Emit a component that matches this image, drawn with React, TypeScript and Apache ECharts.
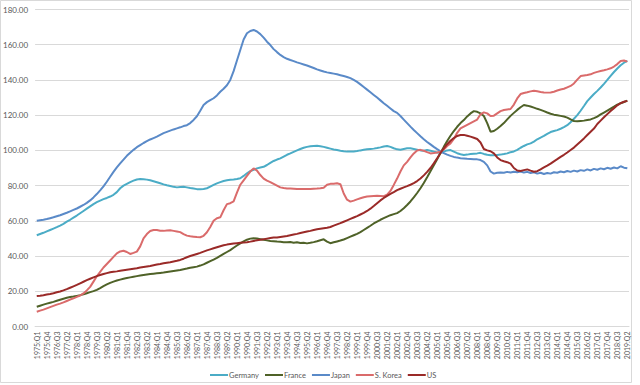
import React, { useEffect, useRef } from "react";
import * as echarts from "echarts";

const startYear = 1975;
const endYear = 2019;
const endQuarter = 2;

const categories: string[] = [];
for (let y = startYear; y <= endYear; y++) {
  for (let q = 1; q <= 4; q++) {
    if (y === endYear && q > endQuarter) break;
    categories.push(`${y}:Q${q}`);
  }
}

const germany = [
  51.8, 52.5, 53.2, 54.0, 54.8, 55.6, 56.4, 57.3, 58.3, 59.5, 60.6, 61.8,
  63.0, 64.3, 65.6, 66.9, 68.2, 69.5, 70.6, 71.5, 72.3, 73.0, 73.8, 74.8,
  76.3, 78.5, 80.0, 81.0, 82.0, 82.8, 83.5, 83.7, 83.6, 83.4, 83.0, 82.5,
  81.9, 81.3, 80.7, 80.2, 79.8, 79.3, 79.0, 79.2, 79.4, 79.0, 78.6, 78.3,
  78.0, 77.9, 78.1, 78.5, 79.4, 80.4, 81.3, 82.0, 82.6, 83.0, 83.3, 83.5,
  83.8, 84.2, 85.5, 87.0, 88.2, 89.0, 89.8, 90.3, 90.7, 91.7, 92.9, 94.0,
  94.8, 95.5, 96.5, 97.5, 98.3, 99.2, 100.0, 100.8, 101.5, 102.0, 102.3, 102.5,
  102.6, 102.4, 102.0, 101.5, 101.0, 100.5, 100.2, 99.8, 99.5, 99.3, 99.3, 99.4,
  99.6, 100.0, 100.3, 100.6, 100.8, 101.0, 101.3, 101.7, 102.2, 102.5, 102.0, 101.2,
  100.6, 100.4, 100.8, 101.2, 101.2, 100.8, 100.4, 100.0, 99.8, 100.2, 99.8, 99.3,
  98.8, 98.7, 99.3, 100.0, 100.2, 99.3, 98.4, 97.8, 97.4, 97.6, 97.9, 98.1,
  98.3, 98.6, 98.0, 97.5, 97.3, 97.2, 97.4, 97.6, 97.9, 98.3, 99.0, 99.4,
  100.3, 101.5, 102.5, 103.4, 104.0, 105.0, 106.3, 107.3, 108.2, 109.4, 110.4, 111.0,
  111.5, 112.3, 113.2, 114.3, 116.0, 118.0, 120.0, 122.5, 125.2, 128.0, 130.0, 132.0,
  133.8, 135.7, 137.8, 140.0, 142.3, 144.5, 146.5, 148.3, 149.8, 150.8,
];

const france = [
  11.2, 11.8, 12.4, 13.0, 13.5, 14.0, 14.6, 15.2, 15.8, 16.3, 16.7, 17.0,
  17.4, 17.8, 18.3, 18.9, 19.5, 20.1, 20.8, 21.8, 22.9, 23.9, 24.8, 25.5,
  26.1, 26.6, 27.1, 27.5, 27.9, 28.3, 28.6, 28.9, 29.2, 29.5, 29.8, 30.0,
  30.2, 30.4, 30.6, 30.9, 31.2, 31.5, 31.8, 32.1, 32.5, 32.9, 33.4, 33.7,
  34.0, 34.6, 35.3, 36.2, 37.1, 38.0, 39.0, 40.1, 41.2, 42.3, 43.4, 44.7,
  46.0, 47.2, 48.3, 49.3, 49.9, 50.1, 50.0, 49.6, 49.2, 48.9, 48.6, 48.4,
  48.2, 48.1, 47.9, 47.8, 48.0, 47.6, 47.8, 47.4, 47.6, 47.2, 47.5, 47.9,
  48.4, 49.0, 49.5, 48.2, 47.3, 47.8, 48.3, 48.8, 49.4, 50.2, 51.0, 51.8,
  52.6, 53.6, 54.8, 56.0, 57.2, 58.5, 59.6, 60.6, 61.5, 62.4, 63.2, 63.8,
  64.4, 65.6, 67.2, 69.0, 71.0, 73.3, 75.8, 78.5, 81.5, 84.8, 88.2, 91.5,
  95.0, 98.5, 102.0, 105.3, 108.3, 111.0, 113.4, 115.5, 117.2, 119.3, 121.0, 122.3,
  121.9, 121.0, 119.5, 115.5, 110.6, 111.0, 112.3, 113.8, 115.5, 117.6, 119.6, 121.3,
  123.0, 124.5, 125.8, 125.4, 124.9, 124.3, 123.6, 123.0, 122.3, 121.5, 120.8, 120.3,
  120.0, 119.6, 119.2, 118.6, 117.6, 116.7, 116.5, 116.7, 116.9, 117.3, 117.6, 118.3,
  119.2, 120.4, 121.5, 122.6, 123.7, 124.8, 126.0, 126.8, 127.5, 128.3,
];

const japan = [
  60.0, 60.3, 60.6, 61.0, 61.5, 62.0, 62.6, 63.2, 63.9, 64.6, 65.4, 66.2,
  67.0, 68.0, 69.0, 70.2, 71.6, 73.3, 75.2, 77.3, 79.6, 82.2, 85.0, 87.8,
  90.3, 92.6, 94.8, 96.9, 98.7, 100.3, 101.8, 103.0, 104.2, 105.2, 106.2, 107.0,
  107.8, 108.8, 109.8, 110.5, 111.2, 111.9, 112.5, 113.1, 113.8, 114.3, 115.5, 117.3,
  119.4, 122.5, 125.8, 127.4, 128.5, 129.6, 131.2, 133.3, 135.0, 137.0, 140.0, 145.0,
  151.0, 157.0, 163.0, 166.5, 167.8, 168.4, 167.5, 166.0, 164.0, 161.7, 159.8, 157.5,
  155.8, 154.2, 153.0, 152.0, 151.3, 150.7, 150.0, 149.4, 148.8, 148.2, 147.5, 146.8,
  146.0, 145.4, 144.8, 144.3, 144.0, 143.6, 143.2, 142.7, 142.2, 141.7, 141.0, 140.0,
  138.9, 137.5, 136.0, 134.5, 133.0, 131.5, 130.0, 128.4, 126.8, 125.3, 123.8, 122.3,
  121.3, 119.5, 117.5, 115.5, 113.5, 111.6, 109.8, 108.0, 106.3, 104.8, 103.4, 102.0,
  100.7, 99.5, 98.5, 97.6, 96.9, 96.3, 95.9, 95.6, 95.4, 95.2, 95.1, 95.0,
  94.9, 94.5, 93.5, 91.5, 88.0, 86.8, 87.3, 87.5, 87.3, 87.8, 87.4, 87.9,
  87.6, 88.0, 87.4, 87.8, 87.2, 87.6, 86.8, 87.3, 86.6, 87.2, 86.8, 87.6,
  87.3, 88.0, 87.6, 88.3, 87.8, 88.5, 88.0, 88.8, 88.4, 89.2, 88.6, 89.5,
  89.0, 89.8, 89.3, 90.1, 89.6, 90.3, 89.8, 91.0, 90.2, 89.8,
];

const korea = [
  8.4, 9.0, 9.6, 10.3, 11.0, 11.7, 12.4, 13.0, 13.7, 14.5, 15.3, 16.0,
  16.8, 17.6, 18.8, 20.5, 22.5, 25.5, 28.5, 31.0, 33.5, 35.5, 37.5, 39.5,
  41.5, 42.6, 43.0, 42.3, 41.2, 41.8, 42.5, 45.5, 50.1, 52.5, 54.2, 54.8,
  54.8, 54.4, 54.3, 54.5, 54.6, 54.3, 54.0, 53.6, 52.5, 51.6, 51.2, 51.0,
  50.8, 50.7, 51.5, 53.5, 56.5, 60.0, 61.5, 62.0, 66.0, 69.5, 70.0, 71.0,
  76.0, 80.5, 83.0, 85.5, 88.0, 89.8, 88.5, 86.0, 84.0, 82.8, 82.0, 81.0,
  80.0, 79.0, 78.6, 78.4, 78.3, 78.2, 78.1, 78.1, 78.1, 78.1, 78.1, 78.2,
  78.3, 78.5, 78.8, 80.5, 81.0, 81.1, 81.3, 80.8, 75.5, 72.0, 70.9, 71.5,
  72.2, 72.8, 73.4, 73.8, 74.0, 74.1, 74.2, 74.1, 74.0, 74.8, 77.0, 80.4,
  84.0, 88.0, 91.5, 93.5, 96.0, 98.3, 100.0, 100.3, 99.8, 99.0, 98.3, 98.5,
  98.8, 99.3, 100.5, 102.5, 104.0, 106.5, 110.0, 112.5, 113.5, 114.5, 115.5, 116.5,
  117.5, 120.5, 121.6, 121.0, 119.5, 119.7, 121.0, 122.3, 122.9, 123.2, 123.5, 126.0,
  129.5, 132.0, 132.6, 133.0, 133.5, 133.9, 133.6, 133.2, 132.9, 132.8, 132.9, 133.3,
  134.0, 134.6, 135.0, 135.8, 136.6, 138.0, 140.2, 142.2, 142.5, 142.8, 143.2, 144.0,
  144.6, 145.1, 145.5, 146.0, 146.6, 147.6, 149.0, 150.8, 151.0, 150.4,
];

const us = [
  17.3, 17.5, 17.8, 18.2, 18.5, 18.9, 19.4, 19.9, 20.5, 21.2, 22.0, 22.8,
  23.6, 24.5, 25.4, 26.3, 27.1, 27.9, 28.6, 29.2, 29.8, 30.3, 30.8, 31.1,
  31.3, 31.6, 31.9, 32.2, 32.5, 32.8, 33.1, 33.5, 33.8, 34.1, 34.4, 34.8,
  35.2, 35.5, 35.9, 36.2, 36.5, 36.9, 37.3, 37.8, 38.5, 39.3, 40.0, 40.6,
  41.2, 41.8, 42.5, 43.2, 43.8, 44.4, 45.0, 45.6, 46.1, 46.5, 46.8, 47.1,
  47.3, 47.5, 47.7, 47.9, 48.2, 48.6, 49.0, 49.3, 49.6, 49.9, 50.2, 50.5,
  50.5, 50.8, 51.1, 51.4, 51.8, 52.2, 52.6, 53.1, 53.5, 53.9, 54.3, 54.8,
  55.2, 55.5, 55.8, 56.1, 56.5, 57.3, 58.0, 58.7, 59.5, 60.3, 61.1, 61.9,
  62.7, 63.6, 64.5, 65.6, 66.9, 68.4, 70.0, 71.6, 73.0, 74.2, 75.3, 76.3,
  77.4, 78.2, 79.0, 79.7, 80.5, 81.4, 82.6, 84.0, 85.8, 87.8, 90.0, 92.6,
  95.5, 98.5, 101.2, 103.5, 105.5, 107.0, 108.2, 108.7, 108.8, 108.3, 107.8, 107.2,
  106.5, 104.5, 100.8, 100.0, 99.5, 98.3, 96.0, 94.5, 93.8, 93.3, 92.5, 90.0,
  88.6, 88.3, 88.8, 89.2, 88.5, 87.9, 88.2, 89.2, 90.3, 91.3, 92.5, 93.8,
  95.0, 96.3, 97.5, 98.8, 100.2, 101.6, 103.3, 105.0, 106.8, 108.7, 110.6, 112.4,
  115.0, 116.9, 118.8, 120.6, 122.4, 124.0, 125.6, 126.8, 127.6, 128.1,
];

const yTicks = { min: 0, max: 180, interval: 20 };

const seriesDefs = [
  { name: "Germany", data: germany, color: "#4BACC6" },
  { name: "France", data: france, color: "#4F6228" },
  { name: "Japan", data: japan, color: "#5A8AC8" },
  { name: "S. Korea", data: korea, color: "#DA6B6B" },
  { name: "US", data: us, color: "#9A2A28" },
];

const FONT = "Lato, 'Liberation Sans', sans-serif";

export default function App() {
  const ref = useRef<HTMLDivElement>(null);
  useEffect(() => {
    if (!ref.current) return;
    const chart = echarts.init(ref.current, undefined, { renderer: "svg" });
    chart.setOption({
      animation: false,
      backgroundColor: "#ffffff",
      textStyle: { fontFamily: FONT },
      graphic: [
        {
          type: "rect",
          shape: { x: 0.5, y: 0.5, width: 631, height: 382 },
          style: { fill: "none", stroke: "#d9d9d9", lineWidth: 1 },
          silent: true,
        },
      ],
      grid: { left: 34, right: 11, top: 9.5, bottom: 58.5, containLabel: false },
      legend: {
        top: 366,
        left: 205,
        icon: "rect",
        itemWidth: 18,
        itemHeight: 2,
        itemGap: 6,
        textStyle: { fontSize: 7.5, color: "#595959", fontFamily: FONT, padding: [0, 0, 0, -4] },
        data: seriesDefs.map((s) => s.name),
      },
      xAxis: {
        type: "category",
        data: categories,
        boundaryGap: true,
        axisLine: { lineStyle: { color: "#d9d9d9", width: 1 } },
        axisTick: { show: false },
        axisLabel: {
          interval: 2,
          rotate: 90,
          fontSize: 7,
          color: "#595959",
          margin: 5,
          fontFamily: FONT,
        },
      },
      yAxis: {
        type: "value",
        min: yTicks.min,
        max: yTicks.max,
        interval: yTicks.interval,
        axisLine: { show: false },
        axisTick: { show: false },
        splitLine: { lineStyle: { color: "#d9d9d9", width: 1 } },
        axisLabel: {
          formatter: (v: number) => v.toFixed(2),
          fontSize: 8,
          color: "#595959",
          margin: 7,
          fontFamily: FONT,
        },
      },
      series: seriesDefs.map((s) => ({
        name: s.name,
        type: "line",
        data: s.data,
        showSymbol: false,
        symbol: "none",
        lineStyle: { color: s.color, width: 2 },
        itemStyle: { color: s.color },
        smooth: false,
      })),
    });
    return () => chart.dispose();
  }, []);
  return <div ref={ref} style={{ width: 640, height: 385, position: "absolute", left: 0, top: 0 }} />;
}
